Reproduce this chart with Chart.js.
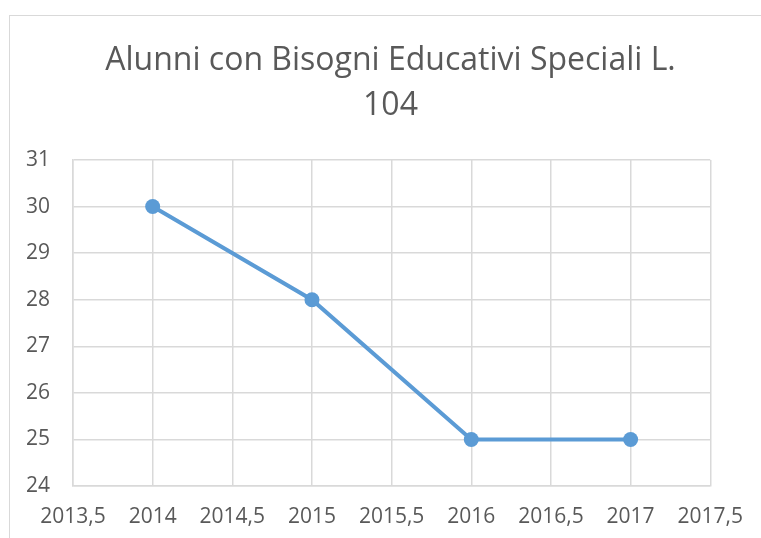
<!DOCTYPE html>
<html>
<head>
<meta charset="utf-8">
<script src="https://cdn.jsdelivr.net/npm/chart.js@4/dist/chart.umd.min.js"></script>
<style>
  html, body { margin: 0; padding: 0; background: #fff; overflow: hidden; }
  #frame {
    position: absolute; left: 9px; top: 15px;
    width: 800px; height: 600px;
    border: 1px solid #d9d9d9;
  }
  #wrap { position: absolute; left: 0; top: 0; width: 761px; height: 538px; }
</style>
</head>
<body>
<div id="frame"></div>
<div id="wrap"><canvas id="chart" width="761" height="538"></canvas></div>
<script>
// data
const years = [2014, 2015, 2016, 2017];
const pupils = [30, 28, 25, 25];
const titleLines = ['Alunni con Bisogni Educativi Speciali L.', '104'];

const textColor = '#595959';
const gridColor = '#d9d9d9';
const blue = '#5b9bd5';

const points = years.map((y, i) => ({ x: y, y: pupils[i] }));

new Chart(document.getElementById('chart'), {
  type: 'scatter',
  data: {
    datasets: [{
      data: points,
      showLine: true,
      borderColor: blue,
      backgroundColor: blue,
      borderWidth: 4,
      pointRadius: 7.5,
      pointHoverRadius: 7.5,
      pointBorderWidth: 0
    }]
  },
  options: {
    responsive: false,
    animation: false,
    layout: { padding: { left: 20, right: 0, top: 0, bottom: 0 } },
    plugins: {
      legend: { display: false },
      tooltip: { enabled: false },
      title: {
        display: true,
        text: titleLines,
        color: textColor,
        font: { family: 'Open Sans', size: 32, weight: 'normal', lineHeight: '45px' },
        padding: { top: 38, bottom: 32 }
      }
    },
    scales: {
      x: {
        type: 'linear',
        min: 2013.5,
        max: 2017.5,
        afterFit: s => { s.height = 52; },
        grid: { color: gridColor, lineWidth: 1.5, drawTicks: false },
        border: { color: gridColor, width: 1.5 },
        ticks: {
          stepSize: 0.5,
          padding: 18,
          color: textColor,
          font: { family: 'Open Sans', size: 21 },
          callback: v => String(v).replace('.', ',')
        }
      },
      y: {
        min: 24,
        max: 31,
        afterFit: s => { s.width = 53; },
        grid: { color: gridColor, lineWidth: 1.5, drawTicks: false },
        border: { color: gridColor, width: 1.5 },
        ticks: {
          stepSize: 1,
          padding: 23,
          color: textColor,
          font: { family: 'Open Sans', size: 21 }
        }
      },
      // empty right-hand strip so the plot ends where the reference does
      spacer: {
        type: 'linear',
        position: 'right',
        afterFit: s => { s.width = 50; },
        grid: { display: false, drawTicks: false },
        border: { display: false },
        ticks: { display: false }
      }
    }
  }
});
</script>
</body>
</html>
